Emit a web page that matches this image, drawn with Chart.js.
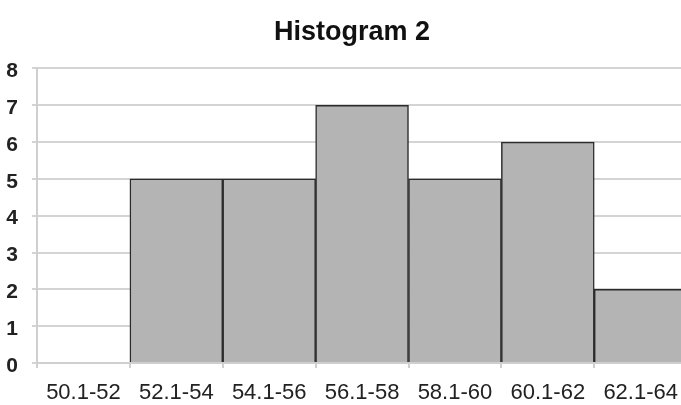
<!DOCTYPE html>
<html>
<head>
<meta charset="utf-8">
<script src="https://cdn.jsdelivr.net/npm/chart.js@4/dist/chart.umd.min.js"></script>
<style>
  html, body { margin: 0; padding: 0; background: #fff; overflow: hidden; }
  #wrap { width: 690px; height: 405px; }
</style>
</head>
<body>
<div id="wrap"><canvas id="histo"></canvas></div>
<script>
const categories = ["50.1-52", "52.1-54", "54.1-56", "56.1-58", "58.1-60", "60.1-62", "62.1-64"];
const counts = [0, 5, 5, 7, 5, 6, 2];
const yTicks = [0, 1, 2, 3, 4, 5, 6, 7, 8];

const ctx = document.getElementById("histo");

// the original title sits a bit right of the canvas centre
const nudgeTitle = {
  id: "nudgeTitle",
  afterLayout(chart) {
    const t = chart.titleBlock;
    if (t) {
      t.left += 7;
      t.right += 7;
    }
  },
};

new Chart(ctx, {
  type: "bar",
  data: {
    labels: categories,
    datasets: [
      {
        data: counts,
        backgroundColor: "#b4b4b4",
        borderColor: "#2b2b2b",
        borderWidth: 1.5,
        barPercentage: 1,
        categoryPercentage: 1,
      },
    ],
  },
  options: {
    responsive: true,
    maintainAspectRatio: false,
    animation: false,
    layout: { padding: 0 },
    plugins: {
      legend: { display: false },
      tooltip: { enabled: false },
      title: {
        display: true,
        text: "Histogram 2",
        color: "#111",
        font: { family: "Liberation Sans", size: 27, weight: "bold" },
        padding: { top: 16, bottom: 20 },
      },
    },
    scales: {
      x: {
        afterFit: (scale) => { scale.height = 42; },
        grid: {
          offset: true,
          drawOnChartArea: false,
          color: "#cfcfcf",
          lineWidth: 2,
          tickLength: 5,
        },
        border: { color: "#cfcfcf", width: 2 },
        ticks: {
          color: "#222",
          font: { family: "Liberation Sans", size: 22 },
          padding: 12,
          maxRotation: 0,
        },
      },
      y: {
        min: yTicks[0],
        max: yTicks[yTicks.length - 1],
        afterFit: (scale) => { scale.width = 37; },
        grid: { color: "#d4d4d4", lineWidth: 2, tickLength: 5 },
        border: { color: "#cfcfcf", width: 2 },
        ticks: {
          stepSize: 1,
          color: "#222",
          font: { family: "Liberation Sans", size: 21, weight: "bold" },
          padding: 14,
          labelOffset: 3,
        },
      },
    },
  },
  plugins: [nudgeTitle],
});
</script>
</body>
</html>
